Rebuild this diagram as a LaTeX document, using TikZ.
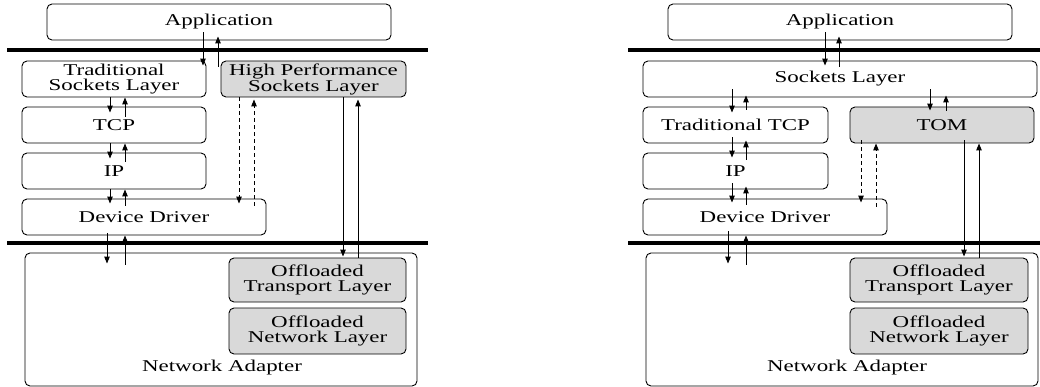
\documentclass[tikz,border=0pt]{standalone}
\usepackage{fontspec}
\setmainfont{Liberation Serif}[FakeStretch=1.39]
\usetikzlibrary{arrows.meta}
\begin{document}
\begin{tikzpicture}[x=1pt,y=-1pt,
  font=\fontsize{16.5}{15}\selectfont,
  layerbox/.style={draw=black,line width=0.9pt,rounded corners=5pt,inner sep=0pt,align=center},
  graybox/.style={layerbox,fill=gray!30},
  arr/.style={line width=1pt,-{Stealth[length=7pt,width=5.5pt,inset=0pt]}},
  darr/.style={arr,dash pattern=on 4pt off 3pt},
  sep/.style={line width=3.4pt}]
\useasboundingbox (0,0) rectangle (1040,387);

% ---------------- left diagram ----------------
\node[layerbox,minimum width=344pt,minimum height=36pt] (app1) at (219,22) {Application};
\node[layerbox,minimum width=184pt,minimum height=36pt] (tsl) at (114,79) {Traditional\\Sockets Layer};
\node[graybox,minimum width=185pt,minimum height=36pt] (hps) at (313.5,79) {High Performance\\Sockets Layer};
\node[layerbox,minimum width=184pt,minimum height=36pt] (tcp) at (114,125) {TCP};
\node[layerbox,minimum width=184pt,minimum height=36pt] (ip1) at (114,171) {IP};
\node[layerbox,minimum width=244pt,minimum height=36pt] (dd1) at (144,217) {Device Driver};
\node[layerbox,minimum width=392pt,minimum height=133pt] (na1) at (221,319.5) {};
\node[inner sep=0pt] (na1t) at (222,368) {Network Adapter};
\node[graybox,minimum width=177pt,minimum height=44pt] (otl1) at (317.5,280) {Offloaded\\Transport Layer};
\node[graybox,minimum width=177pt,minimum height=46pt] (onl1) at (317.5,331) {Offloaded\\Network Layer};

\coordinate (l1a) at (7,50);  \coordinate (l1b) at (428,50);
\coordinate (l2a) at (7,243); \coordinate (l2b) at (428,243);
\draw[sep] (l1a) -- (l1b);
\draw[sep] (l2a) -- (l2b);

% app <-> traditional sockets
\draw[arr] ([xshift=-16pt,yshift=8pt]app1.south) -- ([xshift=89pt,yshift=-5pt]tsl.north);
\draw[arr] ([xshift=104pt,yshift=-6pt]tsl.north) -- ([xshift=-1pt,yshift=4pt]app1.south);
% tsl <-> tcp
\draw[arr] ([xshift=-4pt]tsl.south) -- ([xshift=-4pt,yshift=-6pt]tcp.north);
\draw[arr] ([xshift=11pt,yshift=-10pt]tcp.north) -- ([xshift=11pt]tsl.south);
% tcp <-> ip
\draw[arr] ([xshift=-4pt]tcp.south) -- ([xshift=-4pt,yshift=-6pt]ip1.north);
\draw[arr] ([xshift=11pt,yshift=-9pt]ip1.north) -- ([xshift=11pt]tcp.south);
% ip <-> dd
\draw[arr] ([xshift=-4pt]ip1.south) -- ([xshift=-34pt,yshift=-5pt]dd1.north);
\draw[arr] ([xshift=-19pt,yshift=-7pt]dd1.north) -- ([xshift=11pt]ip1.south);
% hps <-> dd (dashed)
\draw[darr] ([xshift=-74.5pt]hps.south) -- ([xshift=95pt,yshift=-5pt]dd1.north);
\draw[darr] ([xshift=110pt,yshift=-7pt]dd1.north) -- ([xshift=-59.5pt,yshift=-2pt]hps.south);
% hps <-> offloaded transport
\draw[arr] ([xshift=29.5pt]hps.south) -- ([xshift=25.5pt,yshift=1pt]otl1.north);
\draw[arr] ([xshift=40.5pt]otl1.north) -- ([xshift=44.5pt,yshift=-2pt]hps.south);
% dd <-> network adapter
\draw[arr] ([xshift=-37pt,yshift=2pt]dd1.south) -- ([xshift=-114pt,yshift=-11pt]na1.north);
\draw[arr] ([xshift=-96pt,yshift=-12pt]na1.north) -- ([xshift=-19pt]dd1.south);

% ---------------- right diagram ----------------
\node[layerbox,minimum width=344pt,minimum height=36pt] (app2) at (840,22) {Application};
\node[layerbox,minimum width=394pt,minimum height=36pt] (sl) at (840,79) {Sockets Layer};
\node[layerbox,minimum width=185pt,minimum height=36pt] (ttcp) at (735.5,125) {Traditional TCP};
\node[graybox,minimum width=184pt,minimum height=36pt] (tom) at (942,125) {TOM};
\node[layerbox,minimum width=185pt,minimum height=36pt] (ip2) at (735.5,171) {IP};
\node[layerbox,minimum width=244pt,minimum height=36pt] (dd2) at (765,217) {Device Driver};
\node[layerbox,minimum width=392pt,minimum height=133pt] (na2) at (842,319.5) {};
\node[inner sep=0pt] (na2t) at (847,368) {Network Adapter};
\node[graybox,minimum width=178pt,minimum height=44pt] (otl2) at (939,280) {Offloaded\\Transport Layer};
\node[graybox,minimum width=178pt,minimum height=46pt] (onl2) at (939,331) {Offloaded\\Network Layer};

\coordinate (r1a) at (628,50);  \coordinate (r1b) at (1040,50);
\coordinate (r2a) at (628,243); \coordinate (r2b) at (1040,243);
\draw[sep] (r1a) -- (r1b);
\draw[sep] (r2a) -- (r2b);

% app <-> sockets
\draw[arr] ([xshift=-15pt,yshift=8pt]app2.south) -- ([xshift=-15pt,yshift=-5pt]sl.north);
\draw[arr] ([xshift=-1pt,yshift=-6pt]sl.north) -- ([xshift=-1pt,yshift=4pt]app2.south);
% sockets <-> traditional tcp
\draw[arr] ([xshift=-108pt,yshift=8pt]sl.south) -- ([xshift=-3.5pt,yshift=-6pt]ttcp.north);
\draw[arr] ([xshift=10.5pt,yshift=-3pt]ttcp.north) -- ([xshift=-94pt,yshift=2pt]sl.south);
% sockets <-> tom
\draw[arr] ([xshift=90pt,yshift=8pt]sl.south) -- ([xshift=-12pt,yshift=-4pt]tom.north);
\draw[arr] ([xshift=4pt,yshift=-4pt]tom.north) -- ([xshift=106pt,yshift=2pt]sl.south);
% ttcp <-> ip
\draw[arr] ([xshift=-3.5pt,yshift=6pt]ttcp.south) -- ([xshift=-3.5pt,yshift=-5pt]ip2.north);
\draw[arr] ([xshift=10.5pt,yshift=-7pt]ip2.north) -- ([xshift=10.5pt,yshift=3pt]ttcp.south);
% ip <-> dd
\draw[arr] ([xshift=-3.5pt,yshift=6pt]ip2.south) -- ([xshift=-33pt,yshift=-4pt]dd2.north);
\draw[arr] ([xshift=-19pt,yshift=-6pt]dd2.north) -- ([xshift=10.5pt,yshift=3pt]ip2.south);
% tom <-> dd (dashed)
\draw[darr] ([xshift=-81pt,yshift=3pt]tom.south) -- ([xshift=96pt,yshift=-4pt]dd2.north);
\draw[darr] ([xshift=111pt,yshift=-8pt]dd2.north) -- ([xshift=-66pt]tom.south);
% tom <-> offloaded transport
\draw[arr] ([xshift=22pt,yshift=3pt]tom.south) -- ([xshift=25pt,yshift=1pt]otl2.north);
\draw[arr] ([xshift=40pt]otl2.north) -- ([xshift=37pt]tom.south);
% dd <-> network adapter
\draw[arr] ([xshift=-37pt,yshift=4pt]dd2.south) -- ([xshift=-114pt,yshift=-11pt]na2.north);
\draw[arr] ([xshift=-96pt,yshift=-12pt]na2.north) -- ([xshift=-19pt]dd2.south);
\end{tikzpicture}
\end{document}
